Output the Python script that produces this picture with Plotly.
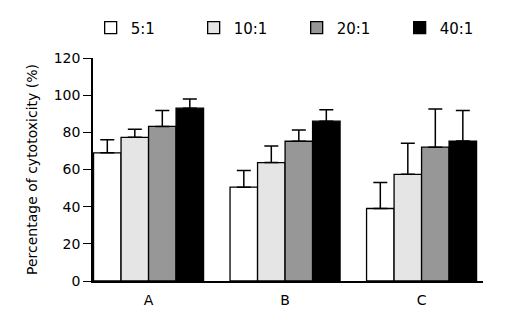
import plotly.graph_objects as go

categories = ["A", "B", "C"]
series_names = ["5:1", "10:1", "20:1", "40:1"]
values = {
    "5:1": [69, 50.5, 39],
    "10:1": [77.3, 63.7, 57.4],
    "20:1": [83.2, 75.2, 72],
    "40:1": [93, 86, 75.3],
}
errors = {
    "5:1": [7, 9, 14],
    "10:1": [4.3, 8.9, 16.7],
    "20:1": [8.6, 6.1, 20.5],
    "40:1": [4.9, 6.1, 16.5],
}
colors = {"5:1": "#ffffff", "10:1": "#e5e5e5", "20:1": "#979797", "40:1": "#000000"}
y_ticks = [0, 20, 40, 60, 80, 100, 120]

fig = go.Figure()
for name in series_names:
    fig.add_trace(go.Bar(
        x=categories, y=values[name], name=name,
        marker=dict(color=colors[name], line=dict(color="black", width=1.3)),
        error_y=dict(type="data", array=errors[name], arrayminus=[0] * 3,
                     symmetric=False, color="black", thickness=1.5, width=7),
    ))

# page body has an 8px default margin, so the figure is 8px smaller
fig.update_layout(
    width=500, height=318,
    margin=dict(l=85, r=25, t=50, b=45, autoexpand=False),
    paper_bgcolor="white", plot_bgcolor="white",
    barmode="group", bargap=0.194, bargroupgap=0,
    font=dict(family="DejaVu Sans", color="black", size=14),
    showlegend=True,
    legend=dict(orientation="h", x=-0.006, xanchor="left",
                y=1.135, yanchor="middle",
                font=dict(size=15), entrywidth=58, entrywidthmode="pixels",
                traceorder="normal"),
    xaxis=dict(range=[-0.407, 2.45], showline=True, linecolor="black", linewidth=1.5,
               ticks="outside", ticklen=5, tickcolor="rgba(0,0,0,0)",
               tickfont=dict(size=14), showgrid=False, zeroline=False),
    yaxis=dict(range=[0, 120], tickvals=y_ticks, showline=True, linecolor="black",
               linewidth=1.5, ticks="outside", ticklen=8, tickwidth=1.3, tickcolor="black",
               tickfont=dict(size=14), showgrid=False, zeroline=False,
               title=dict(text="Percentage of cytotoxicity (%)", font=dict(size=14), standoff=13)),
)

fig.write_html("out.html")
